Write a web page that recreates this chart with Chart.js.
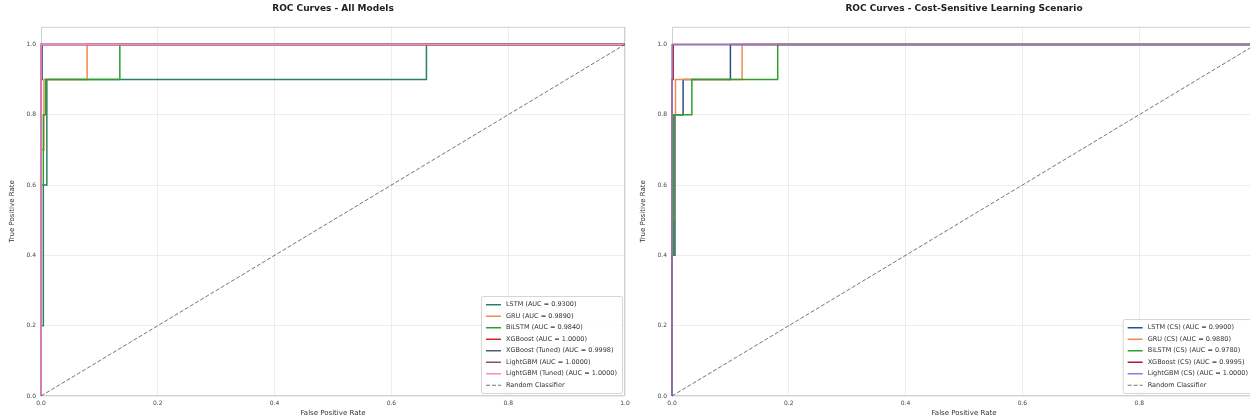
<!DOCTYPE html>
<html>
<head>
<meta charset="utf-8">
<script src="https://cdn.jsdelivr.net/npm/chart.js@4.4.1/dist/chart.umd.min.js"></script>
<style>
  html, body { margin: 0; padding: 0; background: #fff; overflow: hidden; }
  #wrap { position: relative; width: 1250px; height: 419px; overflow: hidden; }
  canvas { position: absolute; top: 0; }
  #rocAll { left: 0; }
  #rocCs  { left: 631px; }
</style>
</head>
<body>
<div id="wrap">
  <canvas id="rocAll" width="640" height="419"></canvas>
  <canvas id="rocCs" width="640" height="419"></canvas>
</div>
<script>
/* ──────────────── datos ──────────────── */
const tickValues = [0, 0.2, 0.4, 0.6, 0.8, 1.0];

// panel izquierdo: todos los modelos
const lstmFpr      = [0, 0, 0.004, 0.004, 0.01, 0.01, 0.66, 0.66, 1];
const lstmTpr      = [0, 0.2, 0.2, 0.6, 0.6, 0.9, 0.9, 1, 1];
const gruFpr       = [0, 0, 0.005, 0.005, 0.079, 0.079, 1];
const gruTpr       = [0, 0.7, 0.7, 0.9, 0.9, 1, 1];
const bilstmFpr    = [0, 0, 0.004, 0.004, 0.008, 0.008, 0.135, 0.135, 1];
const bilstmTpr    = [0, 0.6, 0.6, 0.8, 0.8, 0.9, 0.9, 1, 1];
const xgbFpr       = [0, 0, 1];
const xgbTpr       = [0, 1, 1];
const xgbTunedFpr  = [0, 0, 0.002, 0.002, 1];
const xgbTunedTpr  = [0, 0.9, 0.9, 1, 1];
const lgbFpr       = [0, 0, 1];
const lgbTpr       = [0, 1, 1];
const lgbTunedFpr  = [0, 0, 1];
const lgbTunedTpr  = [0, 1, 1];

const allLabels = [
  "LSTM (AUC = 0.9300)",
  "GRU (AUC = 0.9890)",
  "BiLSTM (AUC = 0.9840)",
  "XGBoost (AUC = 1.0000)",
  "XGBoost (Tuned) (AUC = 0.9998)",
  "LightGBM (AUC = 1.0000)",
  "LightGBM (Tuned) (AUC = 1.0000)"
];

// panel derecho: cost-sensitive
const lstmCsFpr   = [0, 0, 0.005, 0.005, 0.019, 0.019, 0.1, 0.1, 1];
const lstmCsTpr   = [0, 0.4, 0.4, 0.8, 0.8, 0.9, 0.9, 1, 1];
const gruCsFpr    = [0, 0, 0.003, 0.003, 0.006, 0.006, 0.12, 0.12, 1];
const gruCsTpr    = [0, 0.5, 0.5, 0.8, 0.8, 0.9, 0.9, 1, 1];
const bilstmCsFpr = [0, 0, 0.003, 0.003, 0.034, 0.034, 0.181, 0.181, 1];
const bilstmCsTpr = [0, 0.4, 0.4, 0.8, 0.8, 0.9, 0.9, 1, 1];
const xgbCsFpr    = [0, 0, 0.002, 0.002, 1];
const xgbCsTpr    = [0, 0.9, 0.9, 1, 1];
const lgbCsFpr    = [0, 0, 1];
const lgbCsTpr    = [0, 1, 1];

const csLabels = [
  "LSTM (CS) (AUC = 0.9900)",
  "GRU (CS) (AUC = 0.9880)",
  "BiLSTM (CS) (AUC = 0.9780)",
  "XGBoost (CS) (AUC = 0.9995)",
  "LightGBM (CS) (AUC = 1.0000)"
];

const randomFpr = [0, 1];
const randomTpr = [0, 1];

/* ──────────────── estilos ──────────────── */
const FONT = '"DejaVu Sans", sans-serif';
const GRID = 'rgba(0,0,0,0.07)';

const allColors = ['#2a7f62', '#f5894f', '#2ca02c', '#d62728', '#4b5d73', '#8e4a78', '#f08cc8'];
const csColors  = ['#2d4f7c', '#f5894f', '#2ca02c', '#b2182b', '#8c7fd0'];

/* ──────────────── helpers ──────────────── */
function curve(fpr, tpr) {
  return fpr.map((x, i) => ({ x: x, y: tpr[i] }));
}

function buildSets(labels, pairs, colors) {
  const sets = labels.map((label, i) => ({
    label: label,
    data: curve(pairs[i][0], pairs[i][1]),
    borderColor: colors[i],
    borderWidth: 1.5
  }));
  sets.push({
    label: "Random Classifier",
    data: curve(randomFpr, randomTpr),
    borderColor: 'rgba(70,70,70,0.75)',
    borderWidth: 1,
    borderDash: [4, 2]
  });
  // matplotlib pinta la última serie encima
  sets.forEach((s, i) => { s.order = sets.length - i; s.clip = 3; s.fill = false; });
  return sets;
}

// marco del área y leyenda dentro del gráfico (abajo a la derecha)
const rocDecor = {
  id: 'rocDecor',
  beforeDatasetsDraw(chart) {
    const { ctx, chartArea: a } = chart;
    ctx.save();
    ctx.strokeStyle = '#d0d0d0';
    ctx.lineWidth = 1;
    ctx.strokeRect(a.left + 0.5, a.top + 0.5, a.right - a.left - 1, a.bottom - a.top - 1);
    ctx.restore();
  },
  afterDatasetsDraw(chart) {
    const { ctx, chartArea: a } = chart;
    const sets = chart.data.datasets;
    ctx.save();
    ctx.font = '6.5px ' + FONT;
    const textW = Math.max(...sets.map(d => ctx.measureText(d.label).width));
    const rowH = 11.5, pad = 5, lineLen = 15, gap = 5;
    const w = pad + lineLen + gap + textW + pad;
    const h = sets.length * rowH + pad;
    const x0 = a.right - 3 - w;
    const y0 = a.bottom - 3 - h;

    ctx.fillStyle = 'rgba(255,255,255,0.85)';
    ctx.strokeStyle = '#d5d5d5';
    ctx.lineWidth = 1;
    ctx.beginPath();
    ctx.roundRect(x0 + 0.5, y0 + 0.5, w, h, 2);
    ctx.fill();
    ctx.stroke();

    sets.forEach((d, i) => {
      const cy = y0 + pad / 2 + rowH * (i + 0.5) + 0.5;
      ctx.strokeStyle = d.borderColor;
      ctx.lineWidth = d.borderWidth;
      ctx.setLineDash(d.borderDash || []);
      ctx.beginPath();
      ctx.moveTo(x0 + pad, cy);
      ctx.lineTo(x0 + pad + lineLen, cy);
      ctx.stroke();
      ctx.setLineDash([]);
      ctx.fillStyle = '#333';
      ctx.textBaseline = 'middle';
      ctx.fillText(d.label, x0 + pad + lineLen + gap, cy);
    });
    ctx.restore();
  }
};

function fixedTicks(scale) {
  scale.ticks = tickValues.map(v => ({ value: v }));
}

function makeRoc(canvasId, title, datasets) {
  const ctx = document.getElementById(canvasId).getContext('2d');
  return new Chart(ctx, {
    type: 'line',
    data: { datasets: datasets },
    plugins: [rocDecor],
    options: {
      responsive: false,
      animation: false,
      devicePixelRatio: 1,
      layout: { padding: { left: 0, right: 15, top: 0, bottom: 0 } },
      elements: { point: { radius: 0 }, line: { tension: 0 } },
      plugins: {
        legend: { display: false },
        tooltip: { enabled: false },
        title: {
          display: true,
          text: title,
          fullSize: false,
          color: '#222',
          font: { family: FONT, size: 9, weight: 'bold' },
          padding: { top: 3, bottom: 13 }
        }
      },
      scales: {
        x: {
          type: 'linear', min: 0, max: 1,
          afterBuildTicks: fixedTicks,
          afterFit: s => { s.height = 23; },
          grid: { color: GRID, drawTicks: false },
          border: { display: false },
          ticks: { padding: 4, color: '#444', font: { family: FONT, size: 6 }, callback: v => v.toFixed(1) },
          title: { display: true, text: 'False Positive Rate', color: '#333',
                   font: { family: FONT, size: 7 }, padding: { top: 0, bottom: 2 } }
        },
        y: {
          type: 'linear', min: 0, max: 1.05,
          afterBuildTicks: fixedTicks,
          afterFit: s => { s.width = 41; },
          grid: { color: GRID, drawTicks: false },
          border: { display: false },
          ticks: { padding: 5, color: '#444', font: { family: FONT, size: 6 }, callback: v => v.toFixed(1) },
          title: { display: true, text: 'True Positive Rate', color: '#333',
                   font: { family: FONT, size: 7 }, padding: { top: 8, bottom: 0 } }
        }
      }
    }
  });
}

/* ──────────────── inicio ──────────────── */
makeRoc('rocAll', 'ROC Curves - All Models', buildSets(allLabels, [
  [lstmFpr, lstmTpr], [gruFpr, gruTpr], [bilstmFpr, bilstmTpr], [xgbFpr, xgbTpr],
  [xgbTunedFpr, xgbTunedTpr], [lgbFpr, lgbTpr], [lgbTunedFpr, lgbTunedTpr]
], allColors));

makeRoc('rocCs', 'ROC Curves - Cost-Sensitive Learning Scenario', buildSets(csLabels, [
  [lstmCsFpr, lstmCsTpr], [gruCsFpr, gruCsTpr], [bilstmCsFpr, bilstmCsTpr],
  [xgbCsFpr, xgbCsTpr], [lgbCsFpr, lgbCsTpr]
], csColors));
</script>
</body>
</html>
